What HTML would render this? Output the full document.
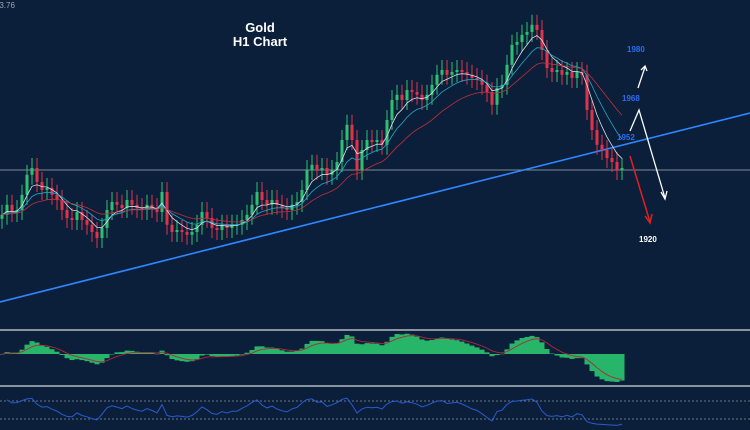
<!DOCTYPE html>
<html><head><meta charset="utf-8"><style>
html,body{margin:0;padding:0;background:#0b1f3a;}
#wrap{position:relative;width:750px;height:430px;overflow:hidden;background:#0b1f3a;font-family:"Liberation Sans",sans-serif;}
svg{position:absolute;left:0;top:0;}
</style></head><body>
<div id="wrap">
<svg id="chart" width="750" height="430">
  <text x="-14" y="8" fill="#9aa6b5" font-size="8">1943.76</text>
  <text x="260" y="32" fill="#ffffff" font-size="13" font-weight="bold" text-anchor="middle">Gold</text>
  <text x="260" y="46" fill="#ffffff" font-size="13" font-weight="bold" text-anchor="middle">H1 Chart</text>
  <line x1="0" y1="170" x2="750" y2="170" stroke="#7d8898" stroke-width="1"/>
  <line x1="0" y1="302" x2="750" y2="113" stroke="#2f86ff" stroke-width="1.6"/>
  <g id="candles"></g>
  <g id="mas"></g>
  <text x="627" y="52" fill="#2a6cf0" font-size="8" font-weight="bold">1980</text>
  <text x="622" y="101" fill="#2a6cf0" font-size="8" font-weight="bold">1968</text>
  <text x="617" y="140" fill="#2a6cf0" font-size="8" font-weight="bold">1952</text>
  <text x="639" y="242" fill="#ffffff" font-size="8" font-weight="bold">1920</text>
  <g stroke="#ffffff" stroke-width="1.3" fill="none">
    <line x1="638" y1="88" x2="645" y2="67"/><polyline points="641,70 645,66 647,71"/>
  </g>
  <g stroke="#ffffff" stroke-width="1.3" fill="none">
    <polyline points="630,131 639,110 665,198"/><polyline points="661,192 665,199 667,191"/>
  </g>
  <g stroke="#e02020" stroke-width="1.5" fill="none">
    <line x1="630" y1="156" x2="650" y2="222"/><polyline points="645,216 650,223 652,214"/>
  </g>
  <rect x="0" y="329" width="750" height="2" fill="#8a93a0"/>
  <g id="macd"></g>
  <rect x="0" y="385" width="750" height="2" fill="#8a93a0"/>
  <line x1="0" y1="401" x2="750" y2="401" stroke="#8a93a0" stroke-width="0.8" stroke-dasharray="2,2"/>
  <line x1="0" y1="419" x2="750" y2="419" stroke="#8a93a0" stroke-width="0.8" stroke-dasharray="2,2"/>
  <g id="rsi"></g>
</svg>
</div>
<script>
const closes = [1928.8,1931.3,1929.5,1930,1933.8,1938.8,1940.5,1937,1935,1935.5,1933.8,1932.5,1930,1928,1927.5,1929.5,1927.5,1926.3,1924.5,1923,1925.5,1930,1932,1931.3,1930.5,1932.5,1931.3,1930.5,1930,1931.3,1930.5,1929.5,1934.5,1926.3,1924.5,1925,1924.5,1923.8,1924.5,1926.3,1929.5,1928,1925.5,1925,1926.3,1925.5,1926.3,1926.3,1927.5,1928.8,1931.3,1934.5,1932.5,1931.3,1932.5,1931.3,1930.5,1930,1931.3,1932,1935,1940,1941.3,1940,1940.5,1938.8,1940,1942,1947.5,1951.3,1947.5,1940,1945,1947.5,1947,1947.5,1946.3,1952.5,1957.5,1958.8,1957.5,1960,1959.5,1958.8,1957.5,1958.8,1961.3,1963.8,1965,1963.8,1964.5,1965,1964.5,1963.8,1963,1962.5,1961.3,1959.5,1956.3,1960.5,1961.3,1966.3,1971.3,1972,1973.8,1974.5,1976.3,1975,1970,1965.5,1964.5,1965,1963.8,1964.5,1963,1964.5,1963.8,1955,1950,1946.3,1945,1943,1942,1940,1940.5];
const wickUp = 2.5;
const wickDown = 2.5;

const NS = "http://www.w3.org/2000/svg";
function xScale(i){ return 2 + i*5; }
function yScale(p){ return 170 - (p-1940)*4; }
function mk(tag, attrs, parent){
  const el = document.createElementNS(NS, tag);
  for (const k in attrs) el.setAttribute(k, attrs[k]);
  parent.appendChild(el);
  return el;
}
const cg = document.getElementById('candles');
for (let i=0;i<closes.length;i++){
  const o = i>0 ? closes[i-1] : closes[i]-1;
  const c = closes[i];
  const hi = Math.max(o,c)+wickUp, lo = Math.min(o,c)-wickDown;
  const col = c>=o ? '#2fbf71' : '#e0334a';
  const x = xScale(i);
  const g = mk('g', {}, cg);
  
  
  mk('line', {x1:x, x2:x, y1:yScale(hi), y2:yScale(lo), stroke:col, 'stroke-width':1}, g);
  const yt = yScale(Math.max(o,c)), yb = yScale(Math.min(o,c));
  mk('rect', {x:x-1.5, y:yt, width:3, height:Math.max(1, yb-yt), fill:col}, g);
}
function ema(arr, n){
  const k = 2/(n+1); const out=[]; let v=arr[0];
  for (let i=0;i<arr.length;i++){ v = i===0?arr[0]:arr[i]*k+v*(1-k); out.push(v); }
  return out;
}
const mg = document.getElementById('mas');
[[5,'#d8e0ea'],[10,'#1fa8c8'],[20,'#c0303a']].forEach(([n,col])=>{
  const e = ema(closes,n);
  const pts = e.map((v,i)=>xScale(i)+','+yScale(v).toFixed(1)).join(' ');
  const pl = mk('polyline',{points:pts, fill:'none', stroke:col, 'stroke-width':0.8}, mg);
  
  
});
// Oscillator
const eF = ema(closes,4), eS = ema(closes,16);
const macd = eF.map((v,i)=>v-eS[i]);
const sig = ema(macd,5);
let mx = 0; macd.forEach(v=>mx=Math.max(mx,Math.abs(v)));
const mscale = 28/mx;
const zero = 354;
const macdG = document.getElementById('macd');
for (let i=0;i<macd.length;i++){
  const h = macd[i]*mscale;
  const r = mk('rect',{x:xScale(i)-2.5, width:5, y: h>0? zero-h : zero, height: Math.max(0.5,Math.abs(h)), fill:'#27b56a'}, macdG);
  
  
}
const sp = mk('polyline',{points: sig.map((v,i)=>xScale(i)+','+(zero - v*mscale).toFixed(1)).join(' '), fill:'none', stroke:'#b0283a','stroke-width':0.9}, macdG);


// RSI
const n=6; const rsi=[]; let ag=0, al=0;
for (let i=1;i<closes.length;i++){
  const d = closes[i]-closes[i-1];
  const g = Math.max(d,0), l = Math.max(-d,0);
  if (i===1){ ag=g||0.5; al=l||0.5; } else { ag=(ag*(n-1)+g)/n; al=(al*(n-1)+l)/n; }
  rsi.push(100 - 100/(1+ag/(al||1e-6)));
}
function rsiY(v){ return 421 - (v-20)*(20/60); }
const rp = mk('polyline',{points: rsi.map((v,i)=>xScale(i+1)+','+rsiY(v).toFixed(1)).join(' '), fill:'none', stroke:'#2a5bd0','stroke-width':1}, document.getElementById('rsi'));


</script>
</body></html>
